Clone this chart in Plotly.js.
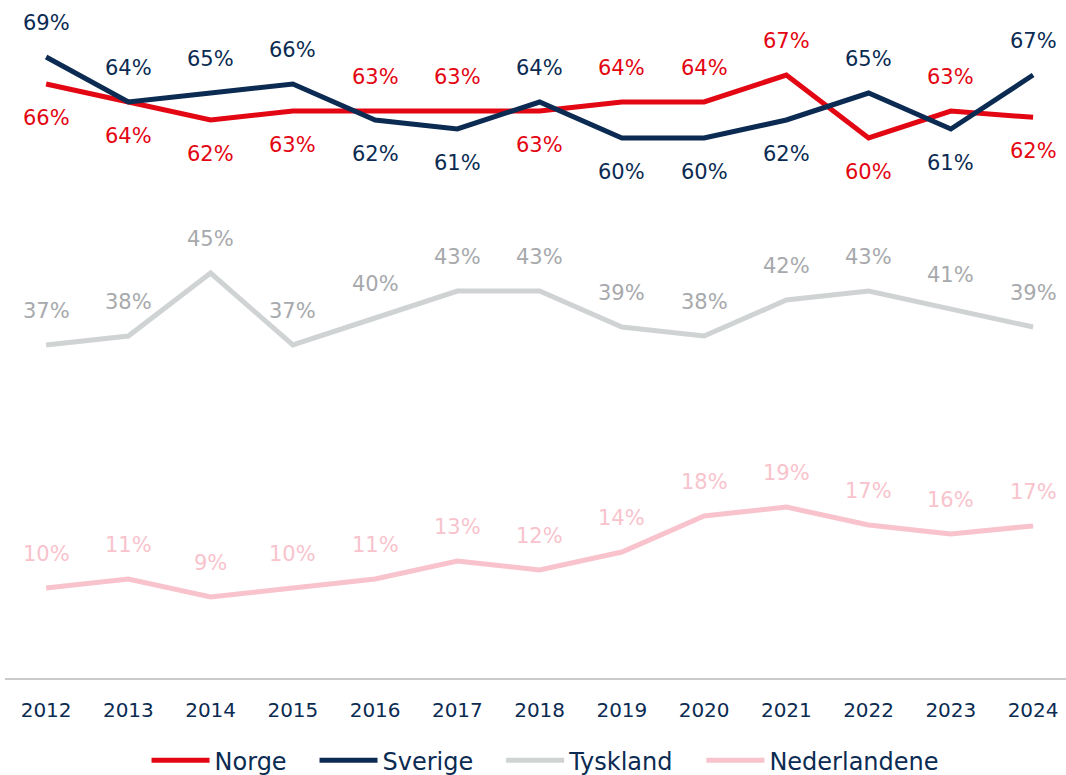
<!DOCTYPE html>
<html>
<head>
<meta charset="utf-8">
<script src="https://cdn.plot.ly/plotly-3.0.1.min.js"></script>
<style>
html,body{margin:0;padding:0;background:#fff;}
#chart{width:1066px;height:775px;}
</style>
</head>
<body>
<div id="chart"></div>
<script>
const years = ['2012','2013','2014','2015','2016','2017','2018','2019','2020','2021','2022','2023','2024'];
const norge = [66,64,62,63,63,63,63,64,64,67,60,63,62.3];
const sverige = [69,64,65,66,62,61,64,60,60,62,65,61,67];
const tyskland = [37,38,45,37,40,43,43,39,38,42,43,41,39];
const nederlandene = [10,11,9,10,11,13,12,14,18,19,17,16,16.9];
// label placement: 1 = above, -1 = below
const norgePos = [-1,-1,-1,-1,1,1,-1,1,1,1,-1,1,-1];
const sverigePos = [1,1,1,1,-1,-1,1,-1,-1,-1,1,-1,1];
const tysklandPos = years.map(()=>1);
const nederlandenePos = years.map(()=>1);

const FONT = 'DejaVu Sans, sans-serif';
const NB = '\u00a0\u00a0\u00a0';
const series = [
  {name:'Norge', y:norge, pos:norgePos, color:'#E30613', label:'#E30613'},
  {name:'Sverige', y:sverige, pos:sverigePos, color:'#0B2B52', label:'#0B2B52'},
  {name:'Tyskland', y:tyskland, pos:tysklandPos, color:'#D0D3D4', label:'#A7A9AC'},
  {name:'Nederlandene', y:nederlandene, pos:nederlandenePos, color:'#F8C3CC', label:'#F8C3CC'}
];

const traces = series.map((s, k) => ({
  type:'scatter', mode:'lines', name: s.name + (k < series.length-1 ? NB : ''), x:years, y:s.y,
  line:{color:s.color, width:5}, hoverinfo:'skip'
}));

const annotations = [];
series.forEach(s => {
  s.y.forEach((v,i) => {
    annotations.push({
      x:i, y:v, xref:'x', yref:'y',
      text: Math.round(v)+'%', showarrow:false,
      yshift: s.pos[i]*34,
      font:{family:FONT, size:21, color:s.label}
    });
  });
});

const layout = {
  width:1066, height:775,
  margin:{l:5, r:0, t:3, b:97, autoexpand:false},
  paper_bgcolor:'#fff', plot_bgcolor:'#fff',
  showlegend:true,
  legend:{orientation:'h', x:0.509, xanchor:'center', y:-0.089, yanchor:'top',
    font:{family:FONT, size:24, color:'#0B2B52'}, itemwidth:58, traceorder:'normal'},
  xaxis:{type:'category', range:[-0.5,12.4], showline:true, linecolor:'#C9CACC', linewidth:2,
    showgrid:false, zeroline:false, ticks:'', ticklabelstandoff:13,
    tickfont:{family:FONT, size:20, color:'#0B2B52'}},
  yaxis:{range:[0,75], visible:false, showgrid:false, zeroline:false},
  annotations:annotations
};

Plotly.newPlot('chart', traces, layout, {displayModeBar:false, staticPlot:true});
</script>
</body>
</html>
